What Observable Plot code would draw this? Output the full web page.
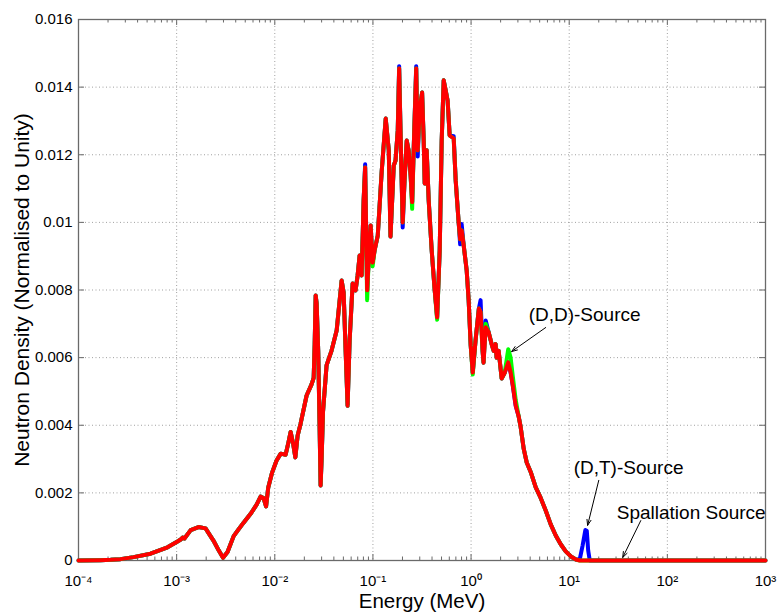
<!DOCTYPE html>
<html><head><meta charset="utf-8">
<script src="https://cdn.jsdelivr.net/npm/d3@7"></script>
<script src="https://cdn.jsdelivr.net/npm/@observablehq/plot@0.6"></script>
<style>body{margin:0;background:#fff}</style>
</head><body><div id="chart"></div>
<script>
// Energy grid (MeV)
const energy = [1e-4, 1.68e-4, 2.12e-4, 2.68e-4, 3.64e-4, 5.42e-4, 8.07e-4, 1.02e-3, 1.10e-3, 1.15e-3,
  1.20e-3, 1.39e-3, 1.67e-3, 1.97e-3, 2.37e-3, 2.68e-3, 2.97e-3, 3.30e-3, 3.81e-3, 4.20e-3,
  4.81e-3, 5.67e-3, 6.53e-3, 7.17e-3, 7.68e-3, 8.15e-3, 8.57e-3, 9.39e-3, 1.04e-2, 1.15e-2,
  1.29e-2, 1.38e-2, 1.45e-2, 1.54e-2, 1.62e-2, 1.71e-2, 1.83e-2, 2.11e-2, 2.37e-2, 2.49e-2,
  2.55e-2, 2.61e-2, 2.67e-2, 2.77e-2, 2.86e-2, 2.93e-2, 3.00e-2, 3.10e-2, 3.37e-2, 3.79e-2,
  4.27e-2, 4.58e-2, 4.80e-2, 5.03e-2, 5.27e-2, 5.52e-2, 5.79e-2, 6.21e-2, 6.66e-2, 6.98e-2,
  7.32e-2, 7.67e-2, 8.04e-2, 8.33e-2, 8.73e-2, 9.04e-2, 9.48e-2, 9.93e-2, 0.104, 0.112,
  0.123, 0.135, 0.145, 0.151, 0.163, 0.170, 0.179, 0.185, 0.192, 0.201,
  0.210, 0.221, 0.231, 0.242, 0.251, 0.260, 0.276, 0.286, 0.299, 0.317,
  0.329, 0.337, 0.353, 0.370, 0.397, 0.426, 0.451, 0.479, 0.502, 0.526,
  0.551, 0.577, 0.605, 0.665, 0.697, 0.747, 0.774, 0.802, 0.841, 0.902,
  0.945, 0.991, 1.04, 1.11, 1.20, 1.25, 1.31, 1.34, 1.41, 1.51,
  1.62, 1.70, 1.78, 1.82, 1.91, 2.05, 2.20, 2.39, 2.53, 2.66,
  2.85, 3.06, 3.20, 3.44, 3.69, 4.05, 4.56, 5.12, 5.76, 6.48,
  7.29, 8.19, 9.21, 10.4, 11.7, 12.8, 13.7, 14.6, 15.1, 15.6,
  16.2, 1000];

// Spallation source (red)
const spallation = [0, 0.00001, 0.00002, 0.00004, 0.00010, 0.00020, 0.00039, 0.00056, 0.00062, 0.00068,
  0.00065, 0.00090, 0.00099, 0.00095, 0.00059, 0.00030, 0.00008, 0.00025, 0.00072, 0.00089,
  0.00112, 0.00138, 0.00165, 0.00189, 0.00185, 0.00160, 0.00215, 0.00260, 0.00295, 0.00316,
  0.00313, 0.00350, 0.00380, 0.00345, 0.00305, 0.00370, 0.00404, 0.00488, 0.00521, 0.00540,
  0.00640, 0.00784, 0.00760, 0.00620, 0.00400, 0.00222, 0.00300, 0.00440, 0.00577, 0.00621,
  0.00680, 0.00769, 0.00828, 0.00793, 0.00620, 0.00458, 0.00651, 0.00819, 0.00799, 0.00843,
  0.00902, 0.00843, 0.01065, 0.01162, 0.00799, 0.00887, 0.00991, 0.00881, 0.00917, 0.00961,
  0.01153, 0.01307, 0.01213, 0.00958, 0.01168, 0.01183, 0.01272, 0.01455, 0.01242, 0.01000,
  0.01124, 0.01242, 0.01213, 0.01139, 0.01060, 0.01213, 0.01455, 0.01213, 0.01331, 0.01384,
  0.01242, 0.01115, 0.01213, 0.01065, 0.00917, 0.00799, 0.00719, 0.00917, 0.01242, 0.01420,
  0.01390, 0.01360, 0.01257, 0.01248, 0.01124, 0.01000, 0.00950, 0.00976, 0.00932, 0.00858,
  0.00769, 0.00636, 0.00556, 0.00650, 0.00745, 0.00735, 0.00620, 0.00585, 0.00690, 0.00675,
  0.00640, 0.00620, 0.00640, 0.00600, 0.00620, 0.00538, 0.00555, 0.00586, 0.00556, 0.00518,
  0.00458, 0.00425, 0.00395, 0.00330, 0.00290, 0.00262, 0.00216, 0.00185, 0.00148, 0.00107,
  0.00074, 0.00048, 0.00027, 0.00012, 0.00003, 0, 0, 0, 0, 0,
  0, 0];

// (D,D) source (green)
const ddSource = [0, 0.00001, 0.00002, 0.00004, 0.00010, 0.00020, 0.00039, 0.00056, 0.00062, 0.00068,
  0.00065, 0.00090, 0.00099, 0.00095, 0.00059, 0.00030, 0.00008, 0.00025, 0.00072, 0.00089,
  0.00112, 0.00138, 0.00165, 0.00189, 0.00185, 0.00160, 0.00215, 0.00260, 0.00295, 0.00316,
  0.00313, 0.00350, 0.00380, 0.00345, 0.00305, 0.00370, 0.00404, 0.00488, 0.00521, 0.00540,
  0.00640, 0.00784, 0.00760, 0.00620, 0.00400, 0.00222, 0.00300, 0.00440, 0.00577, 0.00621,
  0.00680, 0.00769, 0.00828, 0.00793, 0.00620, 0.00458, 0.00651, 0.00819, 0.00799, 0.00843,
  0.00902, 0.00843, 0.01065, 0.01162, 0.00770, 0.00887, 0.00991, 0.00870, 0.00917, 0.00961,
  0.01153, 0.01307, 0.01213, 0.00958, 0.01168, 0.01183, 0.01272, 0.01455, 0.01242, 0.01000,
  0.01124, 0.01242, 0.01213, 0.01139, 0.01040, 0.01213, 0.01455, 0.01213, 0.01331, 0.01384,
  0.01242, 0.01115, 0.01213, 0.01065, 0.00917, 0.00799, 0.00712, 0.00917, 0.01242, 0.01420,
  0.01390, 0.01360, 0.01257, 0.01248, 0.01124, 0.01000, 0.00950, 0.00976, 0.00932, 0.00858,
  0.00769, 0.00636, 0.00550, 0.00650, 0.00745, 0.00735, 0.00620, 0.00585, 0.00700, 0.00675,
  0.00640, 0.00620, 0.00640, 0.00600, 0.00620, 0.00538, 0.00555, 0.00625, 0.00600, 0.00545,
  0.00475, 0.00425, 0.00395, 0.00330, 0.00290, 0.00262, 0.00216, 0.00185, 0.00148, 0.00107,
  0.00074, 0.00048, 0.00027, 0.00012, 0.00003, 0, 0, 0, 0, 0,
  0, 0];

// (D,T) source (blue)
const dtSource = [0, 0.00001, 0.00002, 0.00004, 0.00010, 0.00020, 0.00039, 0.00056, 0.00062, 0.00068,
  0.00065, 0.00090, 0.00099, 0.00095, 0.00059, 0.00030, 0.00008, 0.00025, 0.00072, 0.00089,
  0.00112, 0.00138, 0.00165, 0.00189, 0.00185, 0.00160, 0.00215, 0.00260, 0.00295, 0.00316,
  0.00313, 0.00350, 0.00380, 0.00345, 0.00305, 0.00370, 0.00404, 0.00488, 0.00521, 0.00540,
  0.00640, 0.00784, 0.00760, 0.00620, 0.00400, 0.00222, 0.00300, 0.00440, 0.00577, 0.00621,
  0.00680, 0.00769, 0.00828, 0.00793, 0.00620, 0.00458, 0.00651, 0.00819, 0.00799, 0.00843,
  0.00902, 0.00843, 0.01065, 0.01172, 0.00799, 0.00887, 0.00991, 0.00881, 0.00917, 0.00961,
  0.01153, 0.01307, 0.01213, 0.00958, 0.01168, 0.01183, 0.01272, 0.01462, 0.01242, 0.00985,
  0.01124, 0.01242, 0.01213, 0.01139, 0.01060, 0.01213, 0.01462, 0.01195, 0.01331, 0.01384,
  0.01242, 0.01115, 0.01213, 0.01065, 0.00917, 0.00799, 0.00719, 0.00917, 0.01242, 0.01420,
  0.01390, 0.01360, 0.01257, 0.01255, 0.01124, 0.01000, 0.00935, 0.00995, 0.00932, 0.00858,
  0.00769, 0.00636, 0.00556, 0.00650, 0.00745, 0.00770, 0.00620, 0.00585, 0.00710, 0.00675,
  0.00640, 0.00620, 0.00640, 0.00600, 0.00620, 0.00538, 0.00555, 0.00586, 0.00556, 0.00518,
  0.00458, 0.00425, 0.00395, 0.00330, 0.00290, 0.00262, 0.00216, 0.00185, 0.00148, 0.00107,
  0.00074, 0.00048, 0.00027, 0.00012, 0.00003, 0.00003, 0.00045, 0.00090, 0.00088, 0.00030,
  0, 0];

const yTicks = [0, 0.002, 0.004, 0.006, 0.008, 0.010, 0.012, 0.014, 0.016];
const yTickLabels = ["0", "0.002", "0.004", "0.006", "0.008", "0.01", "0.012", "0.014", "0.016"];
const xDecades = [1e-4, 1e-3, 1e-2, 1e-1, 1e0, 1e1, 1e2, 1e3];
const xTickLabels = ["10\u207B\u2074", "10\u207B\u00B3", "10\u207B\u00B2", "10\u207B\u00B9", "10\u2070", "10\u00B9", "10\u00B2", "10\u00B3"];
const xMinor = [];
for (const d of xDecades.slice(0, -1)) for (let k = 2; k <= 9; k++) xMinor.push(d * k);

const annotations = [
  {label: "(D,D)-Source", tx: 3.86, ty: 0.00725, x1: 5.76, y1: 0.00689, x2: 2.59, y2: 0.00618},
  {label: "(D,T)-Source", tx: 11.1, ty: 0.00275, x1: 20.0, y1: 0.00237, x2: 15.4, y2: 0.00104},
  {label: "Spallation Source", tx: 30.5, ty: 0.00142, x1: 53.6, y1: 0.00118, x2: 35.1, y2: 0.00009}
];

const rows = (vals) => energy.map((e, i) => ({energy: e, density: vals[i]}));

const W = 784, H = 612, mL = 78, mR = 19, mT = 19, mB = 52;
const fw = W - mL - mR, fh = H - mT - mB;
const axisColor = "#6a6a6a";
const font = "'Liberation Sans', Arial, Helvetica, sans-serif";

const chart = Plot.plot({
  width: W, height: H,
  marginLeft: mL, marginRight: mR, marginTop: mT, marginBottom: mB,
  style: {fontFamily: font, fontSize: "15px", color: "#000", background: "#fff", overflow: "visible"},
  x: {type: "log", domain: [1e-4, 1e3]},
  y: {domain: [0, 0.016]},
  marks: [
    Plot.gridX({ticks: xDecades, stroke: "#a0a0a0", strokeOpacity: 1, strokeDasharray: "1,2.5"}),
    Plot.gridY({ticks: yTicks, stroke: "#a0a0a0", strokeOpacity: 1, strokeDasharray: "1,2.5"}),
    Plot.frame({stroke: axisColor, strokeWidth: 1.3}),
    // inward ticks
    Plot.tickX(xDecades, {x: d => d, insetTop: fh - 6, stroke: axisColor}),
    Plot.tickX(xDecades, {x: d => d, insetBottom: fh - 6, stroke: axisColor}),
    Plot.tickX(xMinor, {x: d => d, insetTop: fh - 3.5, stroke: axisColor}),
    Plot.tickX(xMinor, {x: d => d, insetBottom: fh - 3.5, stroke: axisColor}),
    Plot.tickY(yTicks, {y: d => d, insetRight: fw - 6, stroke: axisColor}),
    Plot.tickY(yTicks, {y: d => d, insetLeft: fw - 6, stroke: axisColor}),
    Plot.line(rows(dtSource), {x: "energy", y: "density", stroke: "#0000ff", strokeWidth: 4, strokeLinejoin: "round"}),
    Plot.line(rows(ddSource), {x: "energy", y: "density", stroke: "#00ff00", strokeWidth: 4, strokeLinejoin: "round"}),
    Plot.line(rows(spallation), {x: "energy", y: "density", stroke: "#ff0000", strokeWidth: 4, strokeLinejoin: "round"}),
    Plot.axisX({ticks: xDecades, tickSize: 0, tickPadding: 15, fontSize: 15, label: null,
      tickFormat: d => xTickLabels[Math.round(Math.log10(d)) + 4]}),
    Plot.axisY({ticks: yTicks, tickSize: 0, tickPadding: 6, fontSize: 15, label: null,
      tickFormat: d => yTickLabels[Math.round(d / 0.002)]}),
    Plot.text(["Energy (MeV)"], {text: d => d, frameAnchor: "bottom", textAnchor: "middle", dy: 47, lineAnchor: "bottom", fontSize: 20.5}),
    Plot.text(["Neutron Density (Normalised to Unity)"], {text: d => d, frameAnchor: "left", textAnchor: "middle", rotate: -90, dx: -50, lineAnchor: "bottom", fontSize: 21}),
    Plot.arrow(annotations, {x1: "x1", y1: "y1", x2: "x2", y2: "y2", stroke: "#000", strokeWidth: 1, headLength: 9, headAngle: 40}),
    Plot.text(annotations, {x: "tx", y: "ty", text: "label", textAnchor: "start", fontSize: 19})
  ]
});
document.getElementById("chart").appendChild(chart);
</script>
</body></html>
